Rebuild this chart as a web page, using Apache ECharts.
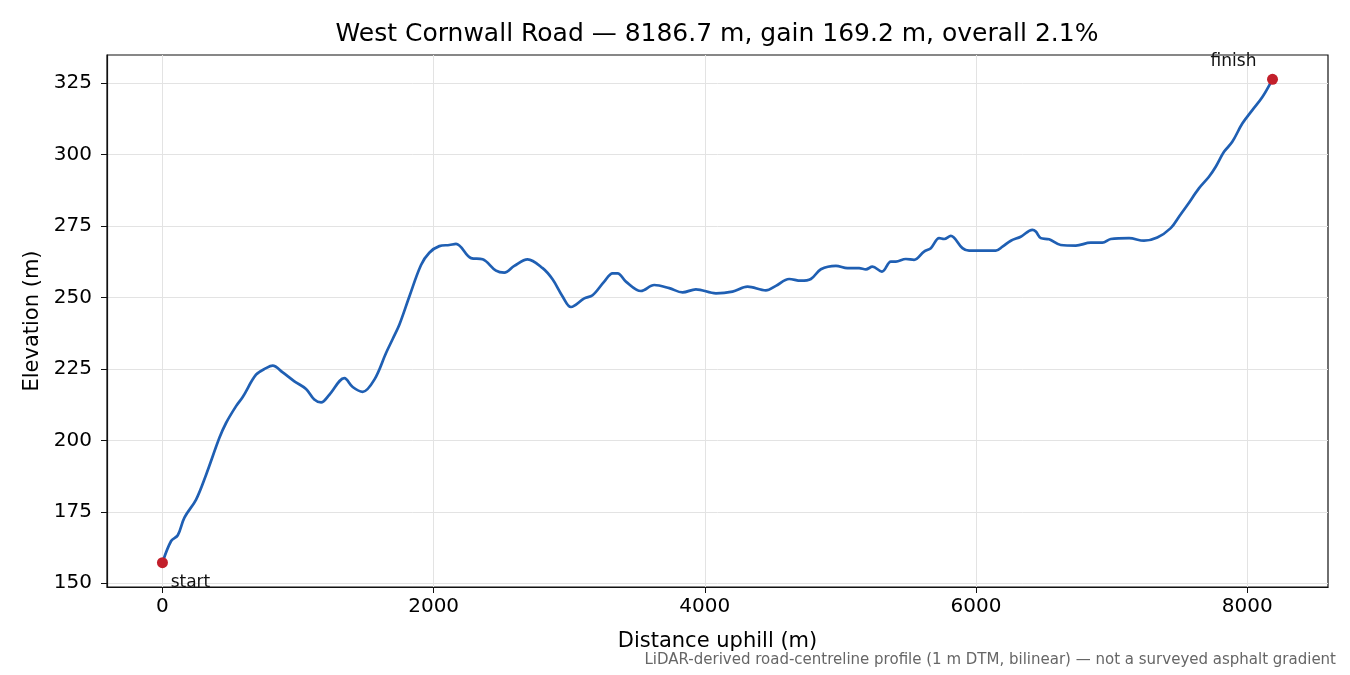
<!DOCTYPE html>
<html>
<head>
<meta charset="utf-8">
<script src="https://cdn.jsdelivr.net/npm/echarts@6/dist/echarts.min.js"></script>
<style>
    html, body { margin: 0; padding: 0; background: #fff; }
    #main { width: 1350px; height: 675px; }
</style>
</head>
<body>
<div id="main"></div>
<script>
// distance along road (m) and elevation (m)
var distances = [0, 64, 113, 162, 248, 322, 420, 469, 543, 592, 690, 764, 813, 887, 973,
    1059, 1120, 1170, 1231, 1342, 1403, 1477, 1563, 1649, 1698, 1747, 1821, 1907, 1968,
    2042, 2116, 2165, 2276, 2361, 2460, 2521, 2595, 2693, 2804, 2877, 2951, 3013, 3111,
    3172, 3258, 3320, 3357, 3418, 3529, 3627, 3738, 3836, 3934, 4082, 4204, 4315, 4450,
    4524, 4622, 4708, 4782, 4856, 4967, 5052, 5138, 5188, 5236, 5306, 5372, 5409, 5482,
    5543, 5617, 5667, 5728, 5765, 5814, 5900, 5949, 6048, 6146, 6195, 6257, 6330, 6416,
    6441, 6478, 6539, 6625, 6736, 6846, 6932, 6994, 7129, 7239, 7337, 7436, 7497, 7559,
    7644, 7718, 7768, 7829, 7890, 7964, 8038, 8112, 8186.7];
var elevations = [157.2, 164.8, 166.8, 173, 179.3, 188, 200.9, 206.1, 212, 215.2, 223, 225.3, 226.2, 223.8, 220.7,
    218, 214.3, 213.3, 216, 221.8, 218.7, 217, 221.3, 230.6, 235.5, 240.5, 250.4, 261.4, 265.7,
    268, 268.4, 268.8, 263.8, 263.4, 259.4, 258.7, 261.1, 263.4, 260.3, 256.4, 250.4, 246.7, 249.7,
    250.8, 255.6, 258.5, 258.5, 255.6, 252.3, 254.4, 253.3, 251.8, 252.9, 251.5, 252.1, 253.8, 252.5,
    254.1, 256.5, 255.9, 256.5, 259.9, 261.1, 260.3, 260.3, 259.9, 260.8, 259.1, 262.6, 262.6, 263.5,
    263.2, 266.1, 267.3, 270.8, 270.5, 271.6, 267.3, 266.4, 266.4, 266.4, 267.8, 269.9, 271.3, 273.7,
    273.1, 270.8, 270.4, 268.4, 268.2, 269.2, 269.2, 270.5, 270.8, 269.9, 271, 274.3, 278.3, 282.4,
    288.2, 292.3, 295.8, 301, 304.5, 310.9, 315.6, 320.2, 326.4];
var xTicks = [0, 2000, 4000, 6000, 8000];
var yTicks = [150, 175, 200, 225, 250, 275, 300, 325];
var endNames = ['start', 'finish'];

var font = 'DejaVu Sans';
var myChart = echarts.init(document.getElementById('main'));

var profile = [];
for (var i = 0; i < distances.length; i++) {
    profile.push([distances[i], elevations[i]]);
}
var last = distances.length - 1;

var option = {
    animation: false,
    backgroundColor: '#fff',
    grid: {
        left: 107, right: 22, top: 55, bottom: 88,
        show: true, borderColor: '#111', borderWidth: 1.2, backgroundColor: 'transparent'
    },
    xAxis: {
        type: 'value',
        min: -409, max: 8596,
        name: 'Distance uphill (m)',
        nameLocation: 'middle',
        nameGap: 44,
        nameTextStyle: { fontFamily: font, fontSize: 21, color: '#000' },
        axisLine: { show: true, onZero: false, lineStyle: { color: '#111', width: 1.2 } },
        axisTick: { show: true, length: 6, customValues: xTicks, lineStyle: { color: '#111' } },
        axisLabel: {
            customValues: xTicks, margin: 10, fontFamily: font, fontSize: 20, color: '#000',
            formatter: function (v) { return String(v); }
        },
        splitLine: { show: true, lineStyle: { color: '#e3e3e3', width: 1 } }
    },
    yAxis: {
        type: 'value',
        min: 148.7, max: 334.9,
        name: 'Elevation (m)',
        nameLocation: 'middle',
        nameRotate: 90,
        nameGap: 57,
        nameTextStyle: { fontFamily: font, fontSize: 21, color: '#000' },
        axisLine: { show: true, onZero: false, lineStyle: { color: '#111', width: 1.2 } },
        axisTick: { show: true, length: 6, customValues: yTicks, lineStyle: { color: '#111' } },
        axisLabel: {
            customValues: yTicks, margin: 15, fontFamily: font, fontSize: 20, color: '#000',
            formatter: function (v) { return String(v); }
        },
        splitLine: { show: true, lineStyle: { color: '#e3e3e3', width: 1 } }
    },
    graphic: [
        {
            type: 'text', x: 717, y: 34,
            style: {
                text: 'West Cornwall Road \u2014 8186.7 m, gain 169.2 m, overall 2.1%',
                font: '25px "DejaVu Sans"', fill: '#000',
                textAlign: 'center', textVerticalAlign: 'middle'
            }
        },
        {
            type: 'text', x: 1336, y: 660,
            style: {
                text: 'LiDAR-derived road-centreline profile (1 m DTM, bilinear) \u2014 not a surveyed asphalt gradient',
                font: '15px "DejaVu Sans"', fill: '#666',
                textAlign: 'right', textVerticalAlign: 'middle'
            }
        }
    ],
    series: [
        {
            type: 'line',
            data: profile,
            showSymbol: false,
            smooth: 0.35,
            lineStyle: { color: '#1f5fb3', width: 2.7 },
            z: 2
        },
        {
            type: 'scatter',
            symbolSize: 11,
            itemStyle: { color: '#c21f2b', opacity: 1 },
            z: 3,
            data: [
                {
                    value: [distances[0], elevations[0]],
                    label: { show: true, formatter: endNames[0], position: 'bottom', offset: [28, 1] }
                },
                {
                    value: [distances[last], elevations[last]],
                    label: { show: true, formatter: endNames[1], position: 'top', offset: [-39, 1] }
                }
            ],
            label: { fontFamily: font, fontSize: 17, color: '#111' }
        }
    ]
};
myChart.setOption(option);
</script>
</body>
</html>
